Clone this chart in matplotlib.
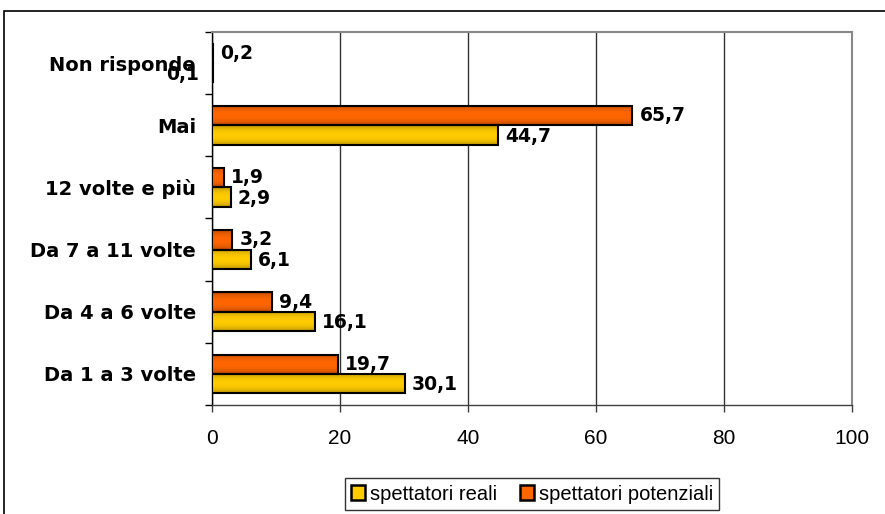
import numpy as np
import matplotlib
matplotlib.use("Agg")
import matplotlib.pyplot as plt
from matplotlib.patches import Rectangle, Patch
from matplotlib.colors import to_rgb

categories = ["Da 1 a 3 volte", "Da 4 a 6 volte", "Da 7 a 11 volte",
              "12 volte e più", "Mai", "Non risponde"]
reali = [30.1, 16.1, 6.1, 2.9, 44.7, 0.1]
potenziali = [19.7, 9.4, 3.2, 1.9, 65.7, 0.2]
xticks = [0, 20, 40, 60, 80, 100]
series_names = ["spettatori reali", "spettatori potenziali"]

YELLOW_MID, YELLOW_EDGE = "#FFCC00", "#9C7A00"
ORANGE_MID, ORANGE_EDGE = "#FF6600", "#9A3D00"


def fmt(v):
    return f"{v:.1f}".replace(".", ",")


def gradient(mid, edge, n=64):
    t = np.linspace(0, 1, n)
    w = np.clip(np.sin(np.pi * t) ** 0.45, 0, 1)[:, None]
    m, e = np.array(to_rgb(mid)), np.array(to_rgb(edge))
    return (e + (m - e) * w)[:, None, :]


fig = plt.figure(figsize=(8.85, 5.14), dpi=100)
ax = fig.add_axes([212 / 885, 1 - 405 / 514, 640 / 885, 373 / 514])

# outer frame
fig.add_artist(Rectangle((4 / 885, -0.1), 1.1, 1.1 - 11 / 514,
                         transform=fig.transFigure, fill=False,
                         edgecolor="black", linewidth=1.2, zorder=0))

y = np.arange(len(categories))
h = 0.31
off = 0.155

bars_r = ax.barh(y - off, reali, height=h, facecolor="none",
                 edgecolor="black", linewidth=1.5, zorder=4)
bars_p = ax.barh(y + off, potenziali, height=h, facecolor="none",
                 edgecolor="black", linewidth=1.5, zorder=4)

for bars, (mid, edge) in ((bars_r, (YELLOW_MID, YELLOW_EDGE)),
                          (bars_p, (ORANGE_MID, ORANGE_EDGE))):
    g = gradient(mid, edge)
    for b in bars:
        x0, y0, w, hh = b.get_x(), b.get_y(), b.get_width(), b.get_height()
        ax.imshow(g, extent=[x0, x0 + w, y0 + hh, y0], aspect="auto",
                  interpolation="bilinear", zorder=3)

lab_font = dict(family="DejaVu Sans", weight="bold", fontsize=13.5)
for i, v in enumerate(potenziali):
    ax.annotate(fmt(v), (v, y[i] + off), xytext=(5, 0),
                textcoords="offset points", va="center", ha="left",
                **lab_font, zorder=5)
for i, v in enumerate(reali):
    if categories[i] == "Non risponde":
        ax.annotate(fmt(v), (v, y[i] - off), xytext=(-10, -1),
                    textcoords="offset points", va="center", ha="right",
                    **lab_font, zorder=5)
    else:
        ax.annotate(fmt(v), (v, y[i] - off), xytext=(5, -1),
                    textcoords="offset points", va="center", ha="left",
                    **lab_font, zorder=5)

ax.set_xlim(0, 100)
ax.set_ylim(-0.5, len(categories) - 0.5)
ax.set_xticks(xticks)
ax.set_xticklabels([str(t) for t in xticks], family="Liberation Sans",
                   fontsize=15)
ax.set_yticks(y)
ax.set_yticklabels(categories, family="DejaVu Sans", weight="bold",
                   fontsize=14)
ax.set_yticks(np.arange(-0.5, len(categories)), minor=True)
ax.tick_params(axis="y", which="major", length=0, pad=11.5)
ax.tick_params(axis="y", which="minor", length=5, width=1, color="black")
ax.tick_params(axis="x", length=5, width=1, color="#404040", pad=12)

ax.xaxis.grid(True, color="#333333", linewidth=1)
ax.set_axisbelow(True)
for side in ("top", "right"):
    ax.spines[side].set_color("#888888")
    ax.spines[side].set_linewidth(1.5)
ax.spines["left"].set_color("black")
ax.spines["bottom"].set_color("#404040")
ax.spines["left"].set_linewidth(1)
ax.spines["bottom"].set_linewidth(1)

handles = [Patch(facecolor=YELLOW_MID, edgecolor="black", linewidth=1.8),
           Patch(facecolor=ORANGE_MID, edgecolor="black", linewidth=1.8)]
leg = fig.legend(handles, series_names, loc="center",
                 bbox_to_anchor=(532 / 885, 1 - 494 / 514), ncol=2,
                 frameon=True, fancybox=False, shadow=False,
                 prop=dict(family="Liberation Sans", size=14.5),
                 handlelength=0.7, handleheight=0.7, handletextpad=0.25,
                 columnspacing=1.1, borderpad=0.3, borderaxespad=0)
leg.get_frame().set_edgecolor("black")
leg.get_frame().set_linewidth(1)

fig.savefig("out.png", dpi=100)
